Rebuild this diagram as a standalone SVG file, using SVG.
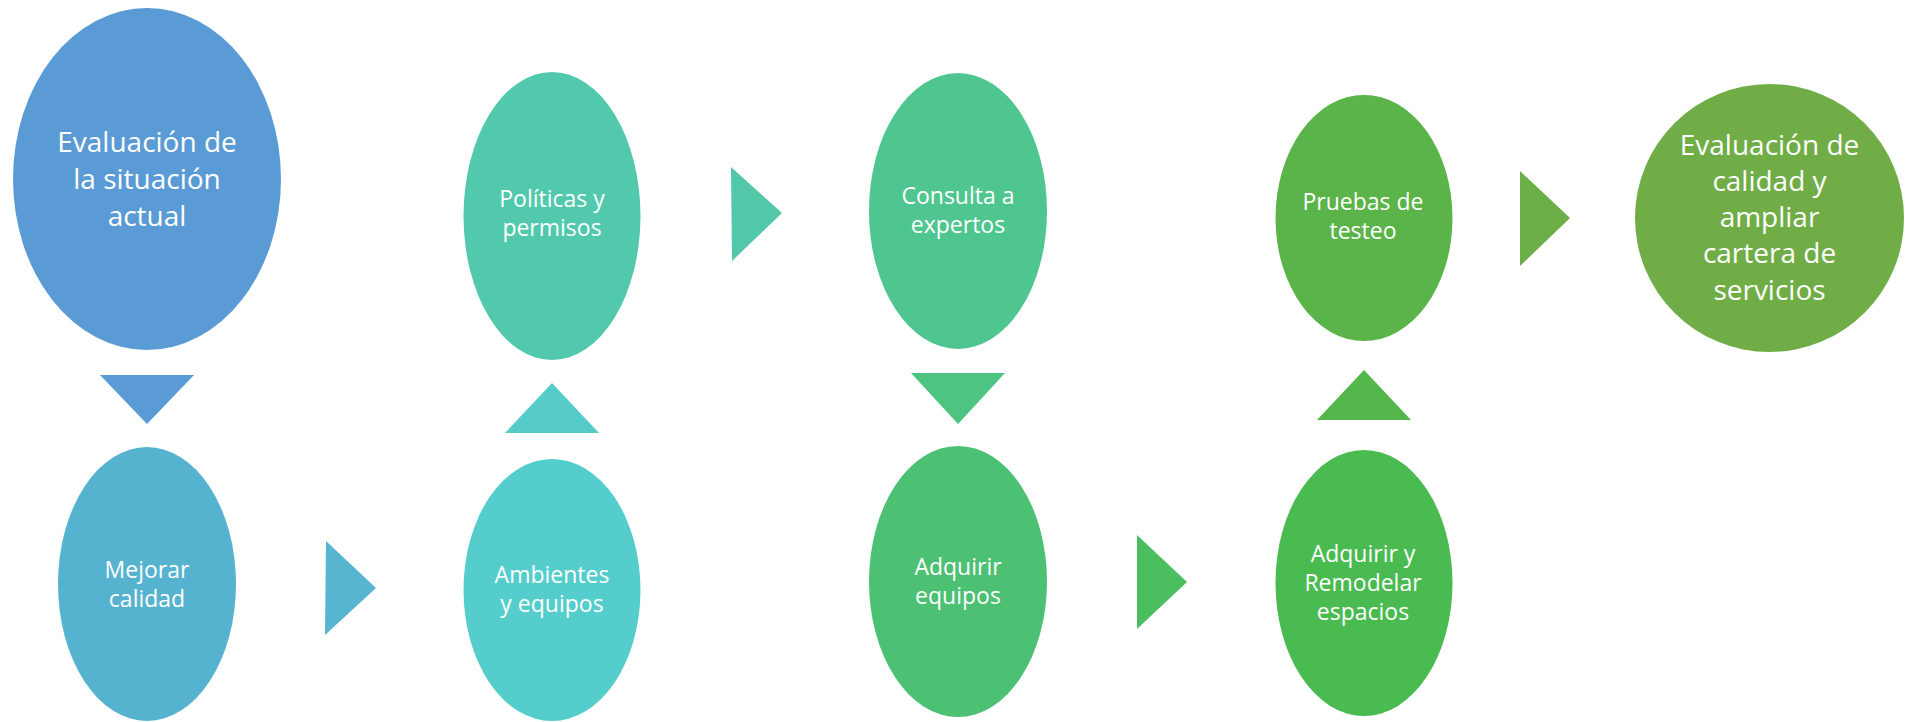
<svg xmlns="http://www.w3.org/2000/svg" width="1915" height="722" viewBox="0 0 1915 722">
<style>
text{font-family:"Open Sans","Liberation Sans",sans-serif;fill:#ffffff;text-anchor:middle}
.big{font-size:28px}
.sm{font-size:23px}
</style>
<rect width="1915" height="722" fill="#ffffff"/>
<g id="connectors">
<polygon points="100,375 194,375 147,424" fill="#5B9BD5"/>
<polygon points="326,541 376,588 325,635" fill="#57B5D0"/>
<polygon points="505,433 599,433 552,383" fill="#55CCC8"/>
<polygon points="731,167 782,213 732,261" fill="#52C8A9"/>
<polygon points="911,373 1005,373 958,424" fill="#4FC482"/>
<polygon points="1137,535 1187,582 1137,629" fill="#4BBE5F"/>
<polygon points="1317,420 1411,420 1364,370" fill="#53B74C"/>
<polygon points="1520,171 1570,218 1520,266" fill="#6CAE48"/>
</g>
<g id="n1">
<ellipse cx="147" cy="179" rx="134" ry="171" fill="#5B9BD5"/>
<text class="big" x="147" y="152">Evaluación de</text>
<text class="big" x="147" y="189">la situación</text>
<text class="big" x="147" y="226">actual</text>
</g>
<g id="n2">
<ellipse cx="147" cy="584" rx="89" ry="137" fill="#56B3CF"/>
<text class="sm" x="147" y="578">Mejorar</text>
<text class="sm" x="147" y="607">calidad</text>
</g>
<g id="n3">
<ellipse cx="552" cy="590" rx="88.5" ry="131" fill="#55CDCC"/>
<text class="sm" x="552" y="583">Ambientes</text>
<text class="sm" x="552" y="612">y equipos</text>
</g>
<g id="n4">
<ellipse cx="552" cy="216" rx="88.5" ry="144" fill="#52C9AD"/>
<text class="sm" x="552" y="207">Políticas y</text>
<text class="sm" x="552" y="236">permisos</text>
</g>
<g id="n5">
<ellipse cx="958" cy="211" rx="89" ry="138" fill="#4FC690"/>
<text class="sm" x="958" y="204">Consulta a</text>
<text class="sm" x="958" y="233">expertos</text>
</g>
<g id="n6">
<ellipse cx="958" cy="581.5" rx="89" ry="135.5" fill="#4CC073"/>
<text class="sm" x="958" y="575">Adquirir</text>
<text class="sm" x="958" y="604">equipos</text>
</g>
<g id="n7">
<ellipse cx="1364" cy="583" rx="88.5" ry="133" fill="#4ABB50"/>
<text class="sm" x="1363" y="562">Adquirir y</text>
<text class="sm" x="1363" y="591">Remodelar</text>
<text class="sm" x="1363" y="620">espacios</text>
</g>
<g id="n8">
<ellipse cx="1364" cy="218" rx="88.5" ry="123" fill="#5BB44A"/>
<text class="sm" x="1363" y="210">Pruebas de</text>
<text class="sm" x="1363" y="239">testeo</text>
</g>
<g id="n9">
<ellipse cx="1769.5" cy="218" rx="134.5" ry="134" fill="#70AD47"/>
<text class="big" x="1769.5" y="155">Evaluación de</text>
<text class="big" x="1769.5" y="191">calidad y</text>
<text class="big" x="1769.5" y="227">ampliar</text>
<text class="big" x="1769.5" y="263">cartera de</text>
<text class="big" x="1769.5" y="300">servicios</text>
</g>
</svg>
